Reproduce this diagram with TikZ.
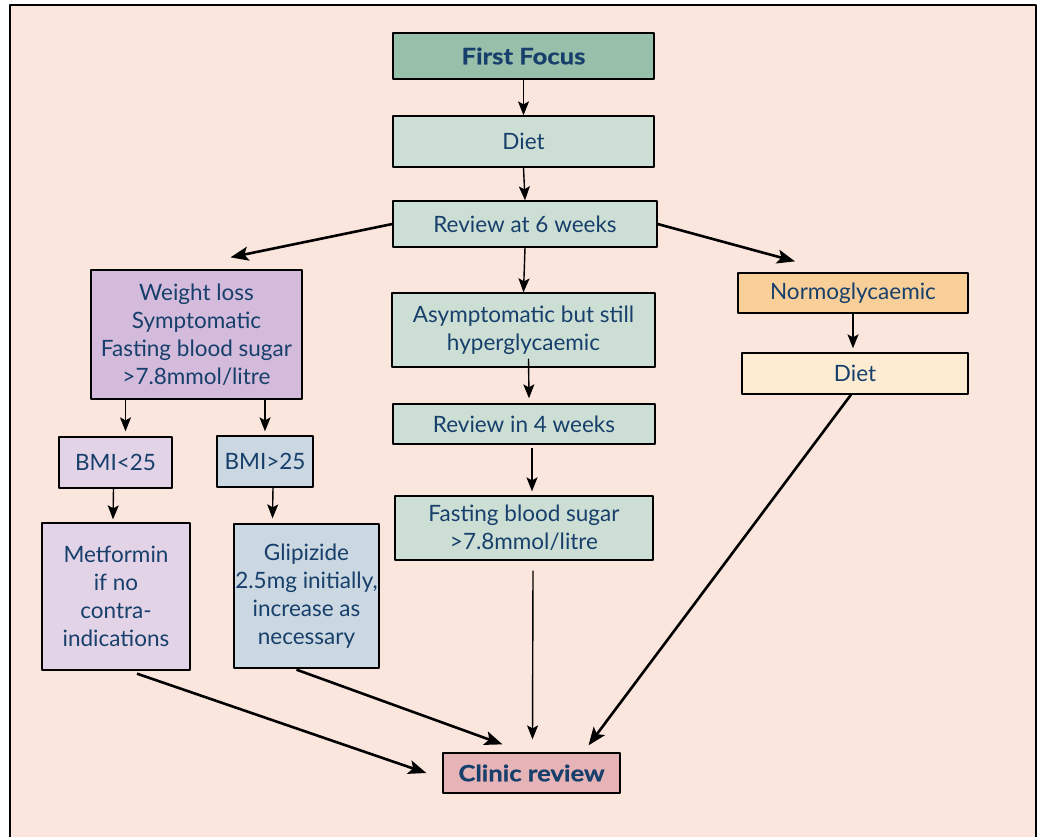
\documentclass[tikz,border=0pt]{standalone}
\usepackage{fontspec}
\setmainfont{Lato}
\usepackage{tikz}
\usetikzlibrary{arrows.meta}
\definecolor{bgpink}{HTML}{FBE6DE}
\definecolor{navy}{HTML}{173F6B}
\definecolor{focusgreen}{HTML}{97BFA9}
\definecolor{palegreen}{HTML}{CDDFD5}
\definecolor{lilac}{HTML}{D4BBDB}
\definecolor{palelilac}{HTML}{E3D3E7}
\definecolor{paleblue}{HTML}{CBD7E1}
\definecolor{orange}{HTML}{F8CF98}
\definecolor{cream}{HTML}{FDEBD2}
\definecolor{rose}{HTML}{E6B3B7}

\begin{document}
\begin{tikzpicture}[x=1pt,y=1pt,line join=round,
  >={Stealth[length=14pt,width=11pt,inset=3pt]},
  box/.style={draw=black,line width=1.3pt,text=navy,align=center,inner sep=0pt,
    font=\fontsize{22.5}{28}\selectfont},
  boldbox/.style={box,font=\fontsize{22.5}{28}\selectfont\bfseries\addfontfeatures{FakeStretch=1.14,FakeBold=0.8}},
  arr/.style={->,line width=1.4pt},
  fatarr/.style={-{Stealth[length=18pt,width=14pt,inset=4pt]},line width=2.6pt}]
\clip (0,0) rectangle (1040,-836);
\fill [white] (0,0) rectangle (1040,-836);
\draw [line width=2pt,fill=bgpink] (10,-5) rectangle (1036,-850);

% middle column
\node[boldbox,fill=focusgreen,minimum width=261pt,minimum height=46pt] (first) at (523.5,-56) {First Focus};
\node[box,fill=palegreen,minimum width=261pt,minimum height=51pt] (diet) at (523.5,-141.5) {Diet};
\node[box,fill=palegreen,minimum width=264pt,minimum height=46pt] (review6) at (525,-224) {Review at 6 weeks};
\node[box,fill=palegreen,minimum width=263pt,minimum height=74pt] (asym) at (523.5,-330) {Asymptomatic but still\\hyperglycaemic};
\node[box,fill=palegreen,minimum width=262pt,minimum height=40pt] (review4) at (524,-424) {Review in 4 weeks};
\node[box,fill=palegreen,minimum width=258pt,minimum height=64pt] (fbs) at (524,-528) {Fasting blood sugar\\>7.8mmol/litre};
\node[boldbox,fill=rose,minimum width=177pt,minimum height=40pt] (clinic) at (531.5,-773) {Clinic review};

% left branch
\node[box,fill=lilac,minimum width=211pt,minimum height=129pt] (weight) at (196.5,-334.5) {Weight loss\\Symptomatic\\Fasting blood sugar\\>7.8mmol/litre};
\node[box,fill=palelilac,minimum width=113pt,minimum height=51pt] (bmilo) at (115.5,-462.5) {BMI<25};
\node[box,fill=paleblue,minimum width=96pt,minimum height=51pt] (bmihi) at (265,-461.5) {BMI>25};
\node[box,fill=palelilac,minimum width=148pt,minimum height=147pt] (metf) at (116,-596.5) {Metformin\\if no\\contra-\\indications};
\node[box,fill=paleblue,minimum width=145pt,minimum height=144pt] (glip) at (306.5,-596) {Glipizide\\2.5mg initially,\\increase as\\necessary};

% right branch
\node[box,fill=orange,minimum width=230pt,minimum height=40pt] (normo) at (853,-293) {Normoglycaemic};
\node[box,fill=cream,minimum width=226pt,minimum height=41pt] (dietr) at (855,-373.5) {Diet};

% connectors
\draw[arr] (first.south) -- (diet.north);
\draw[arr] (diet.south) -- (review6.north);
\draw[fatarr] (review6.west) -- ([shift={(34,12)}]weight.north);
\draw[fatarr] (review6.east) -- ([shift={(-58,11)}]normo.north);
\draw[arr] (review6.south) -- (asym.north);
\draw[arr] ([xshift=5pt,yshift=9pt]asym.south) -- ([xshift=5pt,yshift=5pt]review4.north);
\draw[arr] ([xshift=8pt,yshift=-3pt]review4.south) -- ([xshift=8pt,yshift=4pt]fbs.north);
\draw[arr] ([xshift=-71pt]weight.south) -- ([xshift=10pt,yshift=5pt]bmilo.north);
\draw[arr] (weight.south -| bmihi.north) -- ([yshift=4pt]bmihi.north);
\draw[arr] ([xshift=-2pt]bmilo.south) -- ([xshift=-3pt,yshift=3pt]metf.north);
\draw[arr] ([xshift=8pt]bmihi.south) -- ([xshift=-34pt,yshift=5pt]glip.north);
\draw[arr] (normo.south) -- ([xshift=-2pt,yshift=4pt]dietr.north);
\draw[fatarr] ([shift={(21,-3)}]metf.south) -- ([xshift=-16pt]clinic.west);
\draw[fatarr] ([shift={(-10,-1)}]glip.south) -- ([shift={(-29,8)}]clinic.north);
\draw[arr] ([xshift=9pt,yshift=-10pt]fbs.south) -- ([xshift=1pt,yshift=13pt]clinic.north);
\draw[fatarr] ([xshift=-4pt]dietr.south) -- ([shift={(57,7)}]clinic.north);
\end{tikzpicture}
\end{document}
